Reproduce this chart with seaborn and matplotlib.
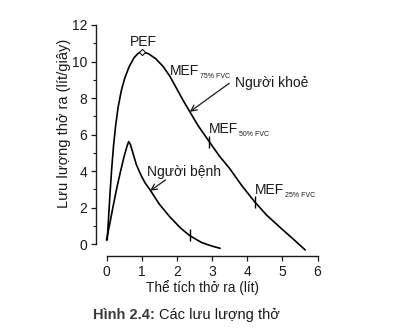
import pandas as pd
import seaborn as sns
import matplotlib.pyplot as plt
from matplotlib.ticker import MultipleLocator

# Flow-volume loop, expiratory limb: volume (L) vs flow (L/s)
healthy_volume = [0.02, 0.06, 0.10, 0.15, 0.20, 0.26, 0.33, 0.42, 0.52, 0.64, 0.78, 0.90,
                  1.00, 1.20, 1.40, 1.60, 1.80, 2.00, 2.20, 2.37, 2.60, 2.92, 3.20, 3.50,
                  3.85, 4.21, 4.55, 4.92, 5.30, 5.65]
healthy_flow = [0.24, 1.5, 2.8, 4.2, 5.4, 6.5, 7.5, 8.4, 9.1, 9.7, 10.2, 10.45,
                10.54, 10.42, 10.15, 9.75, 9.2, 8.5, 7.8, 7.25, 6.5, 5.62, 4.85, 4.15,
                3.2, 2.33, 1.6, 0.95, 0.3, -0.31]

patient_volume = [0.00, 0.10, 0.20, 0.30, 0.40, 0.50, 0.58, 0.63, 0.68, 0.75, 0.85, 1.00,
                  1.10, 1.24, 1.50, 1.80, 2.10, 2.36, 2.70, 3.00, 3.23]
patient_flow = [0.23, 1.2, 2.2, 3.15, 4.0, 4.8, 5.35, 5.62, 5.45, 5.0, 4.35, 3.7,
                3.35, 2.97, 2.2, 1.5, 0.9, 0.48, 0.1, -0.1, -0.22]

pef_volume = [1.00]
pef_flow = [10.54]
mef_volume = [2.92, 4.21]
mef_flow = [5.62, 2.33]
patient_mark_volume = [2.36]
patient_mark_flow = [0.48]

x_ticks = [0, 1, 2, 3, 4, 5, 6]
y_ticks = [0, 2, 4, 6, 8, 10, 12]

sns.set_theme(style="ticks")
plt.rcParams['font.family'] = ['Liberation Sans', 'DejaVu Sans']
ink = "#1a1a1a"

fig = plt.figure(figsize=(4.05, 3.36), dpi=100)
ax = fig.add_axes([0.263, 0.273, 0.521, 0.6527])

sns.lineplot(x=healthy_volume, y=healthy_flow, sort=False, color="black",
             lw=1.2, ax=ax, clip_on=False)
sns.lineplot(x=patient_volume, y=patient_flow, sort=False, color="black",
             lw=1.2, ax=ax, clip_on=False)

# peak flow marker and MEF marks on the curves
sns.scatterplot(x=pef_volume, y=pef_flow, marker="D", s=10, color="white",
                edgecolor="black", linewidth=0.7, ax=ax, zorder=5, clip_on=False)
sns.scatterplot(x=mef_volume + patient_mark_volume, y=mef_flow + patient_mark_flow,
                marker="|", s=70, color="black", linewidth=1.0, ax=ax, zorder=5)

ax.set_xlim(0, 6)
ax.set_ylim(0, 12)
ax.set_xticks(x_ticks)
ax.set_yticks(y_ticks)
ax.yaxis.set_minor_locator(MultipleLocator(1))

sns.despine(ax=ax)
ax.spines['left'].set_position(('outward', 7.5))
ax.spines['bottom'].set_position(('outward', 8.5))
ax.spines['left'].set_bounds(0, 12)
ax.spines['bottom'].set_bounds(0, 6)
for s in ('left', 'bottom'):
    ax.spines[s].set_linewidth(1.0)
    ax.spines[s].set_color(ink)

ax.tick_params(axis='both', which='major', direction='out', length=3.5, width=0.9,
               labelsize=10, colors=ink)
ax.tick_params(axis='y', which='minor', direction='out', length=2.2, width=0.8, colors=ink)
ax.tick_params(axis='x', which='major', pad=3)
ax.tick_params(axis='y', which='major', pad=3)

ax.set_xlabel("Thể tích thở ra (lít)", fontsize=9.8, color=ink, va='center')
ax.xaxis.set_label_coords(0.457, -0.195)
ax.set_ylabel("Lưu lượng thở ra (lít/giây)", fontsize=10.5, color=ink, va='center')
ax.yaxis.set_label_coords(-0.2, 0.551)

# curve annotations
ax.text(1.04, 11.07, "PEF", ha='center', va='center', fontsize=10, color=ink)

def mef_label(x, y, sub):
    t = ax.text(x, y, "MEF", ha='left', va='baseline', fontsize=10, color=ink)
    ax.annotate(sub, xy=(1, 0), xycoords=t, xytext=(0.5, -1.5), textcoords='offset points',
                ha='left', va='bottom', fontsize=5, color=ink)

mef_label(1.81, 9.27, "75% FVC")
mef_label(2.92, 6.08, "50% FVC")
mef_label(4.22, 2.75, "25% FVC")

arrow = dict(arrowstyle="->,head_length=0.35,head_width=0.18", color=ink, lw=0.9,
             shrinkA=0, shrinkB=0)
ax.annotate("", xy=(2.37, 7.25), xytext=(3.49, 8.81), arrowprops=arrow)
ax.text(3.65, 8.59, "Người khoẻ", ha='left', va='baseline', fontsize=10, color=ink)
ax.annotate("", xy=(1.24, 2.93), xytext=(1.68, 3.52), arrowprops=arrow)
ax.text(1.16, 3.74, "Người bệnh", ha='left', va='baseline', fontsize=10, color=ink)

# figure caption
cap = fig.text(93 / 405, 1 - 315 / 336, "Hình 2.4:", ha='left', va='center',
               fontsize=10.5, fontweight='bold', color="#3a3a3a")
ax.annotate("Các lưu lượng thở", xy=(1, 0.5), xycoords=cap, xytext=(3, 0),
            textcoords='offset points', ha='left', va='center', fontsize=10.5, color=ink,
            annotation_clip=False)

fig.savefig("out.png", dpi=100)
